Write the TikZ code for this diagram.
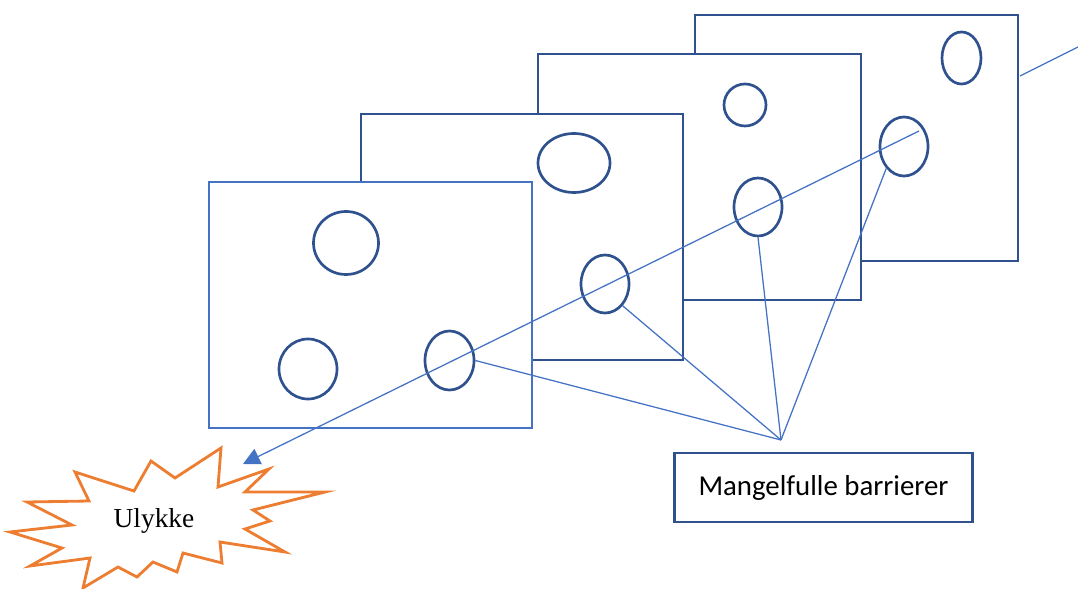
\documentclass[tikz,border=0pt]{standalone}
\usepackage{fontspec}
\setmainfont{Carlito}
\newfontfamily\burstfont{Liberation Serif}
\usetikzlibrary{shapes.geometric,arrows.meta}
\definecolor{frontblue}{HTML}{4472C4}
\definecolor{darkblue}{HTML}{2F528F}
\definecolor{burstorange}{HTML}{ED7D31}
\begin{document}
\begin{tikzpicture}[x=0.025cm, y=-0.025cm,
  slice/.style={draw=darkblue, line width=2.1pt, fill=white},
  hole/.style={draw=darkblue, line width=1.9pt, ellipse, inner sep=0pt},
  pointer/.style={draw=frontblue, line width=0.9pt},
  >={Triangle[length=12pt, width=12pt]}]
\useasboundingbox (0,0) rectangle (1078,589);

\draw[pointer] (1020,76) -- (1078,47);

\filldraw[slice] (695,15) rectangle (1018,261);
\node[hole, minimum width=0.975cm, minimum height=1.3cm] (d1) at (961.5,58) {};
\node[hole, minimum width=1.2cm, minimum height=1.475cm] (d2) at (904,146.5) {};

\filldraw[slice] (538,54) rectangle (861,300);
\node[hole, minimum width=1.05cm, minimum height=1.05cm] (c1) at (745,105) {};
\node[hole, minimum width=1.2cm, minimum height=1.45cm] (c2) at (758,207) {};

\filldraw[slice] (361,114) rectangle (683,360);
\node[hole, minimum width=1.8cm, minimum height=1.475cm] (b1) at (574,163) {};
\node[hole, minimum width=1.2cm, minimum height=1.45cm] (b2) at (605,284) {};

\filldraw[slice, draw=frontblue] (209,182) rectangle (532,428);
\node[hole, minimum width=1.625cm, minimum height=1.575cm] (a1) at (346,243) {};
\node[hole, minimum width=1.45cm, minimum height=1.5cm] (a2) at (308,369) {};
\node[hole, minimum width=1.225cm, minimum height=1.475cm] (a3) at (449.5,360.5) {};

\draw[line width=2pt, draw=burstorange, fill=white, line join=miter]
  (221,448) -- (218,487) -- (269,469) -- (245,492) -- (325,492) -- (253,510)
  -- (270,521) -- (245,529) -- (285,552) -- (220,542) -- (222,563) -- (183,553)
  -- (177,572) -- (153,562) -- (137,577) -- (118,567) -- (83,588) -- (90,558)
  -- (30,566) -- (62,548) -- (10,532) -- (72,525) -- (27,502) -- (89,501)
  -- (75,472) -- (134,491) -- (151,461) -- (175,478) -- cycle;
\node[font=\burstfont\fontsize{19.5}{22}\selectfont] (ulykke) at (154,521) {Ulykke};

\coordinate (ray) at (919,131);
\coordinate (hit) at (243,464);
\draw[pointer, ->] (ray) -- (hit);

\node[draw=darkblue, line width=2.1pt, minimum width=7.425cm, minimum height=1.725cm,
  font=\fontsize{20.5}{24}\selectfont] (mangel) at (823.5,487.5) {Mangelfulle barrierer};
\coordinate (meet) at (781,440);
\draw[pointer] (meet) -- (a3.east);
\draw[pointer] (meet) -- (b2.-51);
\draw[pointer] (meet) -- (c2.south);
\draw[pointer] (meet) -- (d2.-129);
\end{tikzpicture}
\end{document}
